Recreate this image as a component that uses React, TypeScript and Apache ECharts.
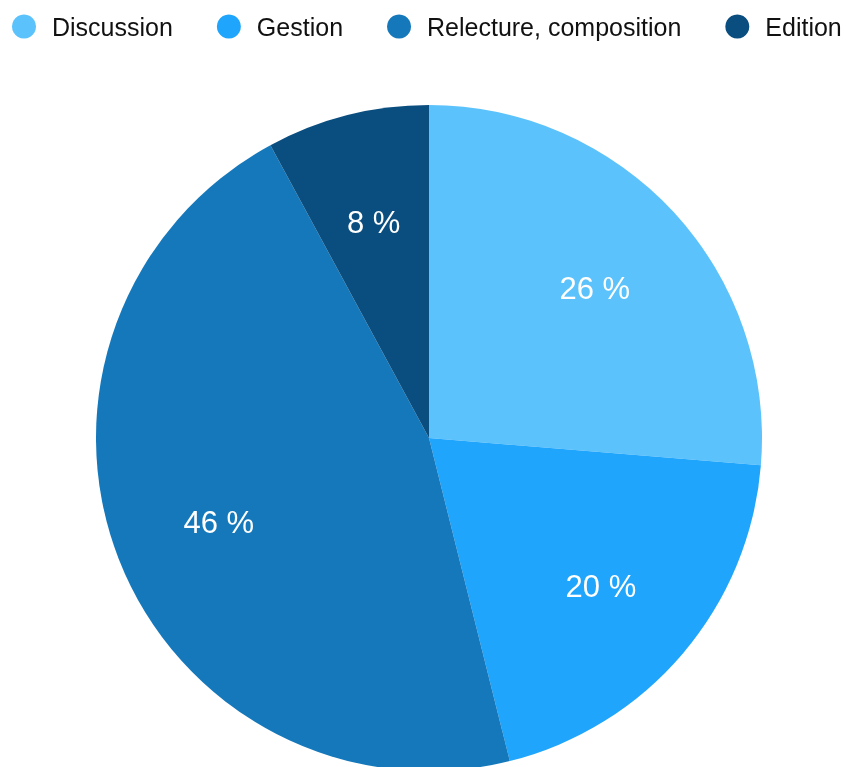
import React, { useEffect, useRef } from "react";
import * as echarts from "echarts";

const categories = ["Discussion", "Gestion", "Relecture, composition", "Edition"];
const values = [26.3, 19.8, 46.0, 7.9];
const colors = ["#5bc2fc", "#1fa5fc", "#1478bb", "#0a4d7f"];

export default function App() {
  const ref = useRef<HTMLDivElement>(null);
  useEffect(() => {
    if (!ref.current) return;
    const chart = echarts.init(ref.current, undefined, { renderer: "svg" });
    const data = categories.map((name, i) => ({ name, value: values[i] }));
    const font = "'Liberation Sans', Arial, Helvetica, sans-serif";
    chart.setOption({
      animation: false,
      color: colors,
      legend: {
        data: categories,
        left: 7,
        top: 9,
        icon: "circle",
        itemWidth: 24,
        itemHeight: 24,
        itemGap: 44,
        textStyle: {
          fontFamily: font,
          fontSize: 25,
          color: "#111",
          padding: [0, 0, 0, 11],
        },
      },
      series: [
        {
          type: "pie",
          name: "fill",
          center: [429, 438],
          radius: [0, 333],
          startAngle: 90,
          clockwise: true,
          silent: true,
          label: { show: false },
          labelLine: { show: false },
          itemStyle: { borderWidth: 0 },
          emphasis: { disabled: true },
          data,
        },
        {
          type: "pie",
          name: "labels",
          center: [429, 441],
          radius: [112, 333],
          startAngle: 90,
          clockwise: true,
          silent: true,
          itemStyle: { color: "rgba(0,0,0,0)", borderWidth: 0 },
          label: {
            show: true,
            position: "inside",
            formatter: (p: any) => `${Math.round(p.percent)} %`,
            color: "#ffffff",
            fontFamily: font,
            fontSize: 31,
          },
          labelLine: { show: false },
          emphasis: { disabled: true },
          data,
        },
      ],
    });
    return () => chart.dispose();
  }, []);
  return (
    <div
      ref={ref}
      style={{ position: "fixed", left: 0, top: 0, width: 847, height: 767 }}
    />
  );
}
